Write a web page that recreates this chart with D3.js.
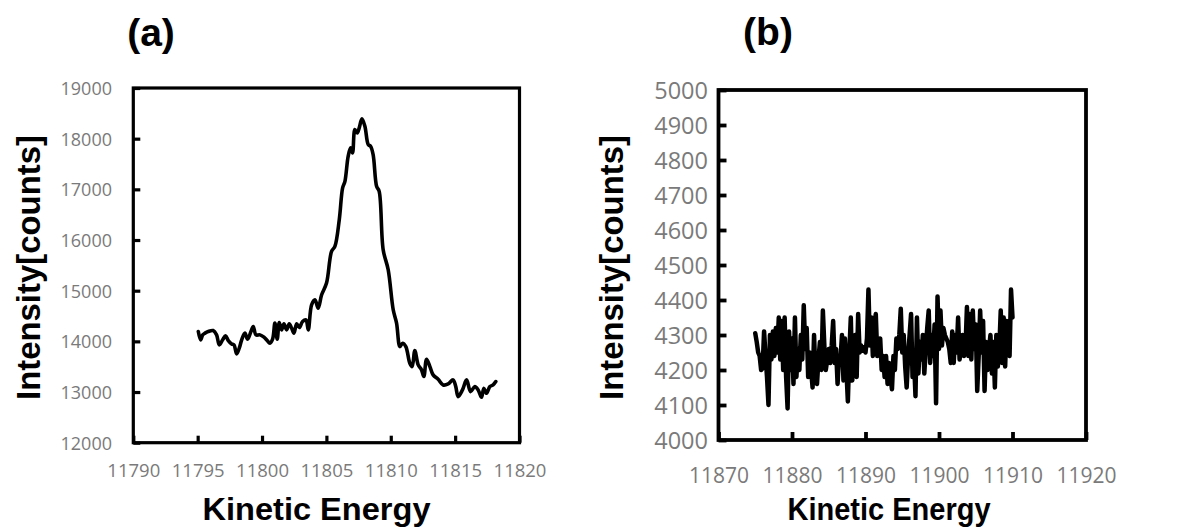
<!DOCTYPE html>
<html>
<head>
<meta charset="utf-8">
<script src="https://cdn.jsdelivr.net/npm/d3@7"></script>
<style>
  html, body { margin: 0; padding: 0; background: #fff; }
  svg { display: block; }
</style>
</head>
<body>
<svg id="chart" width="1183" height="527"></svg>
<script>
// ---------------- Panel (a) data ----------------
const energyA = [11795.05,11795.23,11795.39,11795.57,11795.82,11796.2,11796.47,11796.68,11796.94,11797.17,11797.38,11797.64,11797.82,11798.03,11798.23,11798.42,11798.67,11798.88,11799.14,11799.32,11799.53,11799.84,11800.15,11800.4,11800.61,11800.82,11801.0,11801.18,11801.34,11801.52,11801.7,11801.91,11802.11,11802.3,11802.48,11802.69,11802.89,11803.15,11803.41,11803.59,11803.85,11804.11,11804.36,11804.63,11805.01,11805.4,11805.66,11806.0,11806.26,11806.44,11806.69,11806.88,11807.03,11807.21,11807.39,11807.55,11807.76,11807.99,11808.25,11808.43,11808.63,11808.9,11809.1,11809.41,11809.8,11810.19,11810.45,11810.71,11810.92,11811.17,11811.48,11811.66,11811.87,11812.13,11812.39,11812.57,11812.78,11813.04,11813.29,11813.68,11814.07,11814.46,11814.84,11815.05,11815.23,11815.57,11815.89,11816.2,11816.53,11816.79,11817.05,11817.23,11817.44,11817.7,11817.95,11818.16];
const intensityA = [14194,14030,14128,14162,14194,14213,14128,13931,14030,14109,14016,13950,13931,13753,13865,14030,14162,14043,14194,14293,14128,14128,14083,14016,13964,14043,14360,14043,14372,14227,14346,14227,14346,14260,14162,14346,14273,14391,14425,14227,14721,14820,14656,14919,15150,15775,15874,16401,17028,17158,17652,17818,17719,18180,18114,18213,18391,18245,17883,17850,17686,17060,16960,15808,15413,14623,14360,13897,13964,13897,13569,13502,13818,13536,13437,13305,13648,13502,13338,13253,13140,13160,13239,13107,12909,13041,13239,13008,13107,13041,12896,13075,12976,13107,13140,13206];
const xTicksA = [11790,11795,11800,11805,11810,11815,11820];
const yTicksA = [12000,13000,14000,15000,16000,17000,18000,19000];

// ---------------- Panel (b) data ----------------
const energyStartB = 11875.0;   // first channel (eV)
const energyStepB = 0.2;        // channel width (eV)
const intensityB = [
4305,4280,4250,4240,4200, 4205,4310,4240,4180,4100,
4300,4230,4310,4240,4320, 4250,4350,4230,4340,4200,
4350,4180,4090,4310,4200, 4290,4160,4350,4180,4260,
4200,4300,4230,4385,4260, 4320,4180,4250,4200,4150,
4300,4180,4160,4230,4280, 4200,4370,4270,4200,4230,
4260,4220,4270,4340,4220, 4260,4160,4240,4230,4300,
4170,4290,4200,4110,4250, 4350,4170,4260,4300,4180,
4360,4250,4270,4255,4265, 4250,4290,4430,4270,4350,
4240,4330,4360,4240,4280, 4290,4200,4240,4180,4240,
4160,4220,4180,4145,4240, 4200,4290,4260,4300,4375,
4250,4300,4210,4150,4240, 4300,4360,4180,4230,4125,
4350,4190,4280,4230,4300, 4190,4260,4320,4370,4220,
4300,4240,4330,4105,4410, 4260,4370,4270,4320,4300,
4290,4280,4260,4220,4310, 4220,4300,4250,4350,4230,
4270,4300,4240,4260,4380, 4240,4360,4230,4370,4260,
4330,4140,4240,4370,4250, 4340,4140,4280,4200,4260,
4300,4190,4280,4150,4300, 4210,4260,4370,4220,4350,
4210,4340,4260,4240,4430, 4350];
const xTicksB = [11870,11880,11890,11900,11910,11920];
const yTicksB = [4000,4100,4200,4300,4400,4500,4600,4700,4800,4900,5000];

const svg = d3.select("#chart");
const tickFont = "'Open Sans', 'Noto Sans', sans-serif";
const titleFont = "'Liberation Sans', Arial, sans-serif";
const grey = "#7a7a7a";

function panel(cfg) {
  const x = d3.scaleLinear().domain(cfg.xDomain).range([cfg.left, cfg.right]);
  const y = d3.scaleLinear().domain(cfg.yDomain).range([cfg.bottom, cfg.top]);
  const g = svg.append("g");

  const line = d3.line().x(d => x(d[0])).y(d => y(d[1])).curve(cfg.curve);
  g.append("path")
    .datum(cfg.data)
    .attr("fill", "none")
    .attr("stroke", "#000")
    .attr("stroke-width", cfg.lineWidth)
    .attr("stroke-linejoin", "round")
    .attr("stroke-linecap", "round")
    .attr("d", line);

  const xAxis = d3.axisBottom(x).tickValues(cfg.xTicks).tickSize(-cfg.tickLen).tickFormat(d3.format("d")).tickPadding(0);
  const yAxis = d3.axisLeft(y).tickValues(cfg.yTicks).tickSize(-cfg.tickLen).tickFormat(d3.format("d")).tickPadding(0);

  const gx = g.append("g").attr("transform", `translate(0,${cfg.bottom})`).call(xAxis);
  const gy = g.append("g").attr("transform", `translate(${cfg.left},0)`).call(yAxis);
  [gx, gy].forEach(a => {
    a.select(".domain").remove();
    a.selectAll(".tick line").attr("stroke", "#000").attr("stroke-width", cfg.frameWidth);
    a.selectAll(".tick text").attr("fill", grey).attr("font-family", tickFont);
  });
  gx.selectAll(".tick text")
    .attr("font-size", cfg.xTickSize)
    .attr("y", cfg.xTickY - cfg.bottom)
    .attr("dy", 0);
  gy.selectAll(".tick text")
    .attr("font-size", cfg.yTickSize)
    .attr("x", cfg.yTickRight - cfg.left)
    .attr("dy", "0.36em");

  g.append("rect")
    .attr("x", cfg.left).attr("y", cfg.top)
    .attr("width", cfg.right - cfg.left).attr("height", cfg.bottom - cfg.top)
    .attr("fill", "none").attr("stroke", "#000").attr("stroke-width", cfg.frameWidth);

  g.append("text")
    .attr("x", cfg.labelX).attr("y", cfg.labelY)
    .attr("text-anchor", "middle")
    .attr("font-family", titleFont).attr("font-weight", "bold")
    .attr("font-size", 39)
    .text(cfg.label);

  g.append("text")
    .attr("x", cfg.xTitleX).attr("y", 520)
    .attr("text-anchor", "middle")
    .attr("font-family", titleFont).attr("font-weight", "bold")
    .attr("font-size", cfg.xTitleSize)
    .attr("textLength", cfg.xTitleLen).attr("lengthAdjust", "spacingAndGlyphs")
    .text("Kinetic Energy");

  g.append("text")
    .attr("transform", `translate(${cfg.yTitleX},267.5) rotate(-90)`)
    .attr("text-anchor", "middle")
    .attr("font-family", titleFont).attr("font-weight", "bold")
    .attr("font-size", 33)
    .attr("textLength", 265).attr("lengthAdjust", "spacingAndGlyphs")
    .text("Intensity[counts]");
}

panel({
  data: energyA.map((e, i) => [e, intensityA[i]]),
  xDomain: [11790, 11820], yDomain: [12000, 19000],
  left: 133.3, right: 519.5, top: 88, bottom: 442.7,
  xTicks: xTicksA, yTicks: yTicksA,
  tickLen: 7, frameWidth: 3.2, lineWidth: 3.6,
  curve: d3.curveCatmullRom,
  xTickSize: 18.5, xTickY: 477, yTickSize: 18, yTickRight: 112,
  label: "(a)", labelX: 151, labelY: 46,
  xTitleX: 316.5, xTitleSize: 32, xTitleLen: 228,
  yTitleX: 40
});

panel({
  data: intensityB.map((v, i) => [energyStartB + i * energyStepB, v]),
  xDomain: [11870, 11920], yDomain: [4000, 5000],
  left: 718.5, right: 1086, top: 90, bottom: 440,
  xTicks: xTicksB, yTicks: yTicksB,
  tickLen: 8, frameWidth: 3.8, lineWidth: 4.5,
  curve: d3.curveLinear,
  xTickSize: 21, xTickY: 483, yTickSize: 23.5, yTickRight: 708,
  label: "(b)", labelX: 768, labelY: 45,
  xTitleX: 889, xTitleSize: 32, xTitleLen: 203,
  yTitleX: 623
});
</script>
</body>
</html>
